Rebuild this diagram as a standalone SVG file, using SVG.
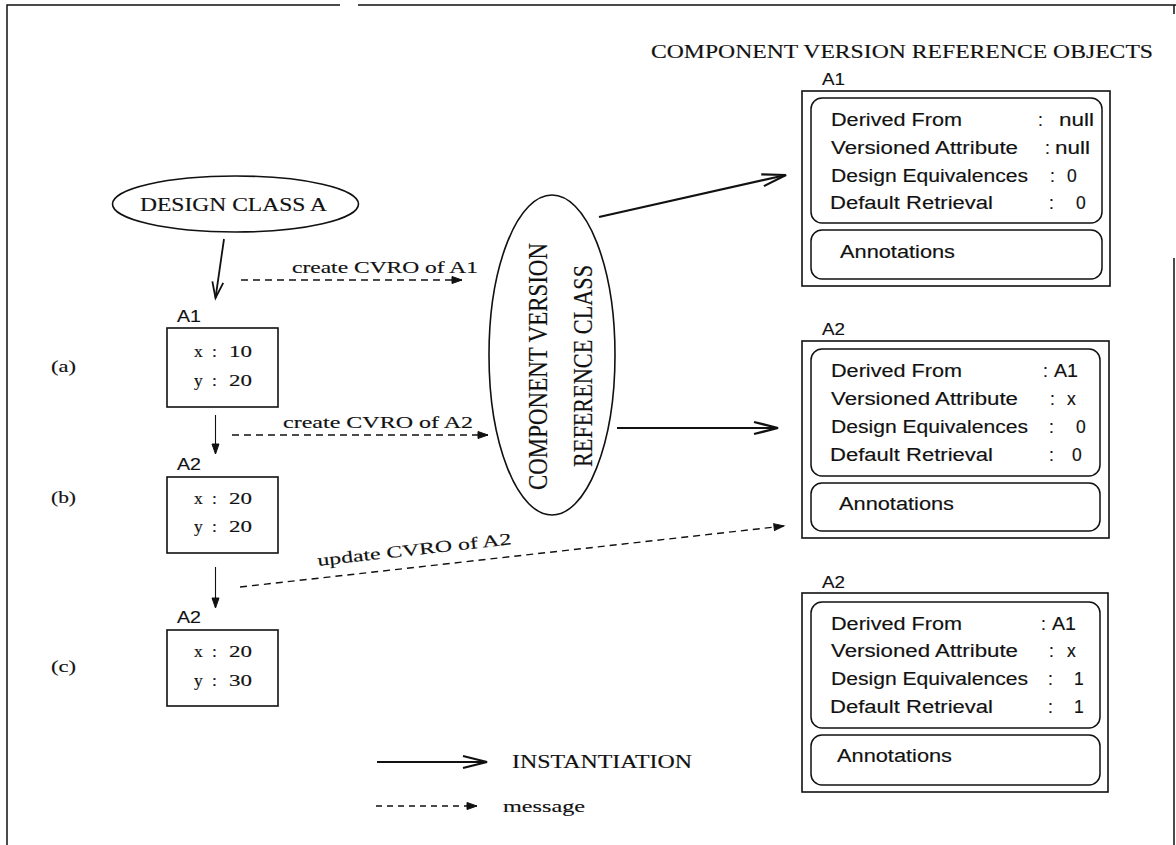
<svg xmlns="http://www.w3.org/2000/svg" width="1176" height="845" viewBox="0 0 1176 845">
  <defs>
    <style>
      .frame { fill: none; stroke: #111; stroke-width: 1.5; }
      .box { fill: none; stroke: #111; stroke-width: 1.6; }
      .rbox { fill: none; stroke: #111; stroke-width: 1.5; }
      .oval { fill: #fff; stroke: #111; stroke-width: 1.6; }
      .inst { fill: none; stroke: #111; stroke-width: 2.2; }
      .msg { fill: none; stroke: #111; stroke-width: 1.4; stroke-dasharray: 7 5; }
      .step { fill: none; stroke: #111; stroke-width: 1.1; }
      text { stroke: #111; stroke-width: 0.15; }
      .serif { font-family: "Liberation Serif", "Times New Roman", serif; fill: #111; }
      .sans { font-family: "Liberation Sans", Arial, sans-serif; fill: #111; }
      .row { font-size: 17.5px; }
      .val { font-size: 17.5px; }
      .lbl { font-size: 16.5px; }
      .attr { font-size: 17.5px; }
      .case { font-size: 16px; }
      .note { font-size: 16.5px; }
    </style>
    <marker id="open-head" markerUnits="userSpaceOnUse" markerWidth="30" markerHeight="16" viewBox="-26 -8 30 16" refX="0" refY="0" orient="auto">
      <path d="M-24,-6 L0,0 L-24,6" fill="none" stroke="#111" stroke-width="2.2"/>
    </marker>
    <marker id="open-head-s" markerUnits="userSpaceOnUse" markerWidth="22" markerHeight="16" viewBox="-18 -8 22 16" refX="0" refY="0" orient="auto">
      <path d="M-16,-5.5 L0,0 L-16,5.5" fill="none" stroke="#111" stroke-width="1.8"/>
    </marker>
    <marker id="dart" markerUnits="userSpaceOnUse" markerWidth="14" markerHeight="10" viewBox="-11 -5 14 10" refX="0" refY="0" orient="auto">
      <path d="M-10,-3.5 L0,0 L-10,3.5 Z" fill="#111" stroke="#111" stroke-width="1"/>
    </marker>
  </defs>

  <!-- outer frame -->
  <g id="frame">
    <path class="frame" d="M7,845 L7,5 L340,5 M358,5 L1176,5 M1174,5 L1174,14 M1174,258 L1174,845"/>
  </g>

  <!-- title -->
  <text class="serif" x="651" y="58" font-size="19.5" textLength="502" lengthAdjust="spacingAndGlyphs">COMPONENT VERSION REFERENCE OBJECTS</text>

  <!-- connectors -->
  <g id="connectors">
    <line class="inst" x1="224" y1="239" x2="215.5" y2="298" marker-end="url(#open-head-s)" style="stroke-width:1.8"/>
    <line class="msg" x1="241" y1="280" x2="462" y2="280" marker-end="url(#dart)"/>
    <line class="step" x1="215.5" y1="415" x2="215.5" y2="454" marker-end="url(#dart)"/>
    <line class="msg" x1="232" y1="435" x2="488" y2="435" marker-end="url(#dart)"/>
    <line class="step" x1="215.5" y1="567" x2="215.5" y2="608" marker-end="url(#dart)"/>
    <line class="msg" x1="240" y1="587" x2="784" y2="526" marker-end="url(#dart)"/>
    <line class="inst" x1="599" y1="217" x2="786" y2="175" marker-end="url(#open-head)"/>
    <line class="inst" x1="617" y1="428" x2="778" y2="428" marker-end="url(#open-head)"/>
    <text class="serif note" x="292" y="273" textLength="186" lengthAdjust="spacingAndGlyphs">create CVRO of A1</text>
    <text class="serif note" x="283" y="428" textLength="190" lengthAdjust="spacingAndGlyphs">create CVRO of A2</text>
    <text class="serif note" x="318" y="566" transform="rotate(-6.4 318 566)" textLength="195" lengthAdjust="spacingAndGlyphs">update CVRO of A2</text>
  </g>

  <!-- design class -->
  <g id="design-class-a">
    <ellipse class="oval" cx="235.5" cy="204" rx="123" ry="28"/>
    <text class="serif" x="140" y="211" font-size="18.5" textLength="187" lengthAdjust="spacingAndGlyphs">DESIGN CLASS A</text>
  </g>

  <!-- reference class -->
  <g id="cvr-class">
    <ellipse class="oval" cx="552" cy="355" rx="63" ry="160"/>
    <g transform="translate(547 366.5) scale(1.2 1) rotate(-90)">
      <text class="serif" x="0" y="0" font-size="23" text-anchor="middle" textLength="247" lengthAdjust="spacingAndGlyphs">COMPONENT VERSION</text>
    </g>
    <g transform="translate(592 366) scale(1.2 1) rotate(-90)">
      <text class="serif" x="0" y="0" font-size="23" text-anchor="middle" textLength="202" lengthAdjust="spacingAndGlyphs">REFERENCE CLASS</text>
    </g>
  </g>

  <!-- design object versions -->
  <g id="obj-a1">
    <text class="sans lbl" x="177" y="322" textLength="24" lengthAdjust="spacingAndGlyphs">A1</text>
    <rect class="box" x="167" y="328" width="111" height="79"/>
    <text class="serif attr" x="194" y="357">x</text>
    <text class="serif attr" x="212" y="357">:</text>
    <text class="serif attr" x="229" y="357" textLength="23" lengthAdjust="spacingAndGlyphs">10</text>
    <text class="serif attr" x="194" y="386">y</text>
    <text class="serif attr" x="212" y="386">:</text>
    <text class="serif attr" x="229" y="386" textLength="23" lengthAdjust="spacingAndGlyphs">20</text>
    <text class="serif case" x="51" y="372" textLength="25" lengthAdjust="spacingAndGlyphs">(a)</text>
  </g>

  <g id="obj-a2-b">
    <text class="sans lbl" x="177" y="470" textLength="24" lengthAdjust="spacingAndGlyphs">A2</text>
    <rect class="box" x="167" y="477" width="111" height="76"/>
    <text class="serif attr" x="194" y="504">x</text>
    <text class="serif attr" x="212" y="504">:</text>
    <text class="serif attr" x="229" y="504" textLength="23" lengthAdjust="spacingAndGlyphs">20</text>
    <text class="serif attr" x="194" y="532">y</text>
    <text class="serif attr" x="212" y="532">:</text>
    <text class="serif attr" x="229" y="532" textLength="23" lengthAdjust="spacingAndGlyphs">20</text>
    <text class="serif case" x="51" y="503" textLength="25" lengthAdjust="spacingAndGlyphs">(b)</text>
  </g>

  <g id="obj-a2-c">
    <text class="sans lbl" x="177" y="623" textLength="24" lengthAdjust="spacingAndGlyphs">A2</text>
    <rect class="box" x="167" y="630" width="111" height="76"/>
    <text class="serif attr" x="194" y="657">x</text>
    <text class="serif attr" x="212" y="657">:</text>
    <text class="serif attr" x="229" y="657" textLength="23" lengthAdjust="spacingAndGlyphs">20</text>
    <text class="serif attr" x="194" y="686">y</text>
    <text class="serif attr" x="212" y="686">:</text>
    <text class="serif attr" x="229" y="686" textLength="23" lengthAdjust="spacingAndGlyphs">30</text>
    <text class="serif case" x="51" y="672" textLength="25" lengthAdjust="spacingAndGlyphs">(c)</text>
  </g>

  <!-- reference objects -->
  <g id="cvro-a1">
    <text class="sans lbl" x="822" y="85" textLength="23" lengthAdjust="spacingAndGlyphs">A1</text>
    <rect class="box" x="802" y="91" width="308" height="195"/>
    <rect class="rbox" x="811" y="98" width="291" height="125" rx="11"/>
    <text class="sans row" x="831" y="126" textLength="131" lengthAdjust="spacingAndGlyphs">Derived From</text>
    <text class="sans row" x="831" y="154" textLength="187" lengthAdjust="spacingAndGlyphs">Versioned Attribute</text>
    <text class="sans row" x="831" y="182" textLength="197" lengthAdjust="spacingAndGlyphs">Design Equivalences</text>
    <text class="sans row" x="830" y="209" textLength="163" lengthAdjust="spacingAndGlyphs">Default Retrieval</text>
    <text class="sans val" x="1038" y="126">:</text>
    <text class="sans val" x="1059" y="126" textLength="35" lengthAdjust="spacingAndGlyphs">null</text>
    <text class="sans val" x="1045" y="154">:</text>
    <text class="sans val" x="1055" y="154" textLength="35" lengthAdjust="spacingAndGlyphs">null</text>
    <text class="sans val" x="1050" y="182">:</text>
    <text class="sans val" x="1067" y="182">0</text>
    <text class="sans val" x="1049" y="209">:</text>
    <text class="sans val" x="1076" y="209">0</text>
    <rect class="rbox" x="811" y="230" width="291" height="49" rx="11"/>
    <text class="sans row" x="840" y="258" textLength="115" lengthAdjust="spacingAndGlyphs">Annotations</text>
  </g>

  <g id="cvro-a2">
    <text class="sans lbl" x="822" y="335" textLength="23" lengthAdjust="spacingAndGlyphs">A2</text>
    <rect class="box" x="802" y="341" width="307" height="197"/>
    <rect class="rbox" x="811" y="349" width="289" height="127" rx="11"/>
    <text class="sans row" x="831" y="377" textLength="131" lengthAdjust="spacingAndGlyphs">Derived From</text>
    <text class="sans row" x="831" y="405" textLength="187" lengthAdjust="spacingAndGlyphs">Versioned Attribute</text>
    <text class="sans row" x="831" y="433" textLength="197" lengthAdjust="spacingAndGlyphs">Design Equivalences</text>
    <text class="sans row" x="830" y="461" textLength="163" lengthAdjust="spacingAndGlyphs">Default Retrieval</text>
    <text class="sans val" x="1043" y="377">:</text>
    <text class="sans val" x="1054" y="377" textLength="24" lengthAdjust="spacingAndGlyphs">A1</text>
    <text class="sans val" x="1050" y="405">:</text>
    <text class="sans val" x="1067" y="405">x</text>
    <text class="sans val" x="1049" y="433">:</text>
    <text class="sans val" x="1076" y="433">0</text>
    <text class="sans val" x="1049" y="461">:</text>
    <text class="sans val" x="1072" y="461">0</text>
    <rect class="rbox" x="811" y="483" width="289" height="48" rx="11"/>
    <text class="sans row" x="839" y="510" textLength="115" lengthAdjust="spacingAndGlyphs">Annotations</text>
  </g>

  <g id="cvro-a2-updated">
    <text class="sans lbl" x="822" y="588" textLength="23" lengthAdjust="spacingAndGlyphs">A2</text>
    <rect class="box" x="802" y="593" width="306" height="199"/>
    <rect class="rbox" x="811" y="602" width="289" height="126" rx="11"/>
    <text class="sans row" x="831" y="630" textLength="131" lengthAdjust="spacingAndGlyphs">Derived From</text>
    <text class="sans row" x="831" y="657" textLength="187" lengthAdjust="spacingAndGlyphs">Versioned Attribute</text>
    <text class="sans row" x="831" y="685" textLength="197" lengthAdjust="spacingAndGlyphs">Design Equivalences</text>
    <text class="sans row" x="830" y="713" textLength="163" lengthAdjust="spacingAndGlyphs">Default Retrieval</text>
    <text class="sans val" x="1041" y="630">:</text>
    <text class="sans val" x="1052" y="630" textLength="24" lengthAdjust="spacingAndGlyphs">A1</text>
    <text class="sans val" x="1049" y="657">:</text>
    <text class="sans val" x="1067" y="657">x</text>
    <text class="sans val" x="1048" y="685">:</text>
    <text class="sans val" x="1074" y="685">1</text>
    <text class="sans val" x="1048" y="713">:</text>
    <text class="sans val" x="1074" y="713">1</text>
    <rect class="rbox" x="811" y="735" width="289" height="50" rx="11"/>
    <text class="sans row" x="837" y="762" textLength="115" lengthAdjust="spacingAndGlyphs">Annotations</text>
  </g>

  <!-- legend -->
  <g id="legend">
    <line class="inst" x1="377" y1="762" x2="487" y2="762" marker-end="url(#open-head)"/>
    <text class="serif" x="512" y="768" font-size="18" textLength="180" lengthAdjust="spacingAndGlyphs">INSTANTIATION</text>
    <line class="msg" x1="376" y1="806" x2="477" y2="806" marker-end="url(#dart)" style="stroke-dasharray:6 5"/>
    <text class="serif" x="503" y="812" font-size="17" textLength="82" lengthAdjust="spacingAndGlyphs">message</text>
  </g>
</svg>
